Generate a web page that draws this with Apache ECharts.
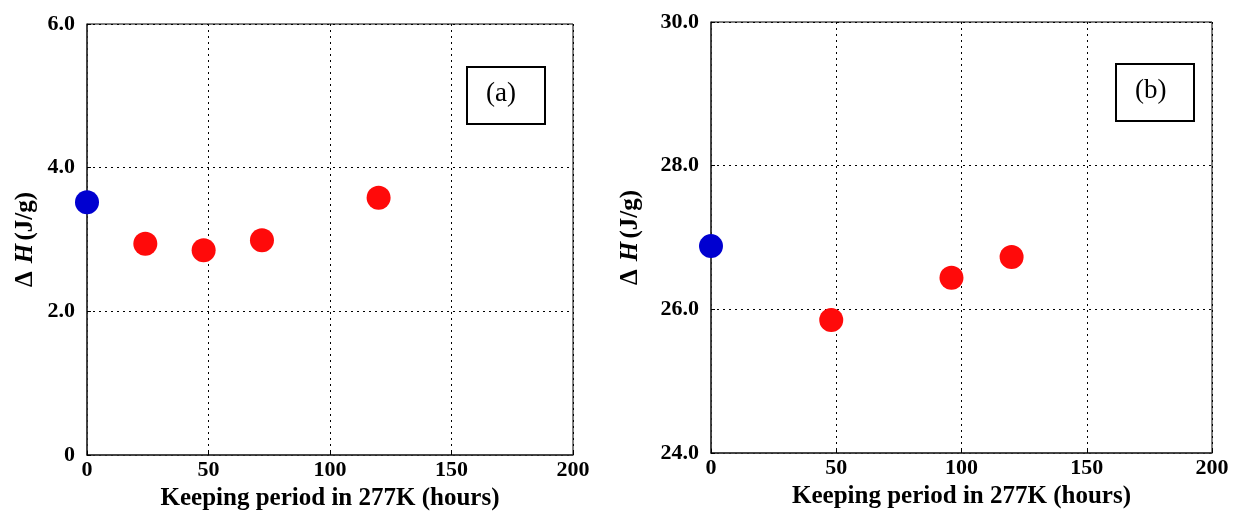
<!DOCTYPE html>
<html>
<head>
<meta charset="utf-8">
<script src="https://cdn.jsdelivr.net/npm/echarts@6/dist/echarts.min.js"></script>
<style>
  html, body { margin: 0; padding: 0; background: #fff; }
  #chart { width: 1235px; height: 511px; }
</style>
</head>
<body>
<div id="chart"></div>
<script>
// panel (a)
var aInitial = [[0, 3.52]];
var aKept = [[24, 2.94], [48, 2.85], [72, 2.99], [120, 3.58]];
// panel (b)
var bInitial = [[0, 26.88]];
var bKept = [[48, 25.85], [96, 26.44], [120, 26.73]];

var xTicks = [0, 50, 100, 150, 200];
var aYTicks = [0, 2, 4, 6];
var bYTicks = [24, 26, 28, 30];

var serif = '"Liberation Serif", "Times New Roman", serif';
var gridLine = { show: true, lineStyle: { color: '#000', type: [2, 4], width: 1 } };

function xAxis(idx) {
  return {
    gridIndex: idx, type: 'value', min: xTicks[0], max: xTicks[xTicks.length - 1], interval: 50,
    name: 'Keeping period in 277K (hours)', nameLocation: 'middle', nameGap: 30,
    nameTextStyle: { fontFamily: serif, fontWeight: 'bold', fontSize: 25, color: '#000' },
    axisLine: { lineStyle: { color: '#333', width: 1.5 } },
    axisTick: { inside: true, length: 4, lineStyle: { color: '#000' } },
    axisLabel: { fontFamily: serif, fontWeight: 'bold', fontSize: 22, color: '#000', margin: 4 },
    splitLine: gridLine
  };
}
function yAxis(idx, ticks, fmt, gap) {
  return {
    gridIndex: idx, type: 'value', min: ticks[0], max: ticks[ticks.length - 1], interval: 2,
    name: '{d|Δ}{s| }{h|H} {b|(J/g)}', nameLocation: 'middle', nameGap: gap, nameRotate: 90,
    nameTextStyle: {
      rich: {
        d: { fontFamily: serif, fontWeight: 'bold', fontSize: 25, color: '#000' },
        s: { fontFamily: serif, fontSize: 25, width: 8 },
        h: { fontFamily: serif, fontWeight: 'bold', fontStyle: 'italic', fontSize: 25, color: '#000' },
        b: { fontFamily: serif, fontWeight: 'bold', fontSize: 25, color: '#000' }
      }
    },
    axisLine: { lineStyle: { color: '#333', width: 1.5 } },
    axisTick: { inside: true, length: 4, lineStyle: { color: '#000' } },
    axisLabel: { fontFamily: serif, fontWeight: 'bold', fontSize: 22, color: '#000', margin: 12, formatter: fmt },
    splitLine: gridLine
  };
}
function dots(idx, data, color) {
  return {
    type: 'scatter', xAxisIndex: idx, yAxisIndex: idx, data: data,
    symbol: 'circle', symbolSize: 24, itemStyle: { color: color, opacity: 1 },
    emphasis: { disabled: true }, z: 5
  };
}

var chart = echarts.init(document.getElementById('chart'));
chart.setOption({
  animation: false,
  backgroundColor: '#fff',
  grid: [
    { left: 87, right: 662, top: 24, bottom: 56, show: true, borderColor: '#000', borderWidth: 1, outerBoundsMode: 'none' },
    { left: 711, right: 23, top: 22, bottom: 58, show: true, borderColor: '#000', borderWidth: 1, outerBoundsMode: 'none' }
  ],
  xAxis: [xAxis(0), xAxis(1)],
  yAxis: [
    yAxis(0, aYTicks, function (v) { return v === 0 ? '0' : v.toFixed(1); }, 49),
    yAxis(1, bYTicks, function (v) { return v.toFixed(1); }, 68)
  ],
  series: [
    dots(0, aInitial, '#0000d0'),
    dots(0, aKept, '#ff0a0a'),
    dots(1, bInitial, '#0000d0'),
    dots(1, bKept, '#ff0a0a')
  ],
  graphic: [
    { type: 'rect', left: 466, top: 66, shape: { width: 78, height: 57 }, style: { fill: '#fff', stroke: '#000', lineWidth: 2 }, z: 10 },
    { type: 'text', left: 486, top: 80, style: { text: '(a)', font: '27px ' + serif, fill: '#000' }, z: 11 },
    { type: 'rect', left: 1115, top: 63, shape: { width: 78, height: 57 }, style: { fill: '#fff', stroke: '#000', lineWidth: 2 }, z: 10 },
    { type: 'text', left: 1135, top: 77, style: { text: '(b)', font: '27px ' + serif, fill: '#000' }, z: 11 }
  ]
});
</script>
</body>
</html>
